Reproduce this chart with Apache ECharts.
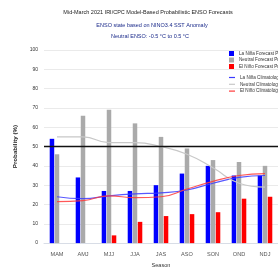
<!DOCTYPE html>
<html>
<head>
  <meta charset="utf-8" />
  <script src="https://cdn.jsdelivr.net/npm/echarts@6/dist/echarts.min.js"></script>
</head>
<body style="margin:0">
  <div id="main" style="width: 278px;height:273px;"></div>
  <script type="text/javascript">
    var seasons = ['MAM', 'AMJ', 'MJJ', 'JJA', 'JAS', 'ASO', 'SON', 'OND', 'NDJ']
    var laNina = [54, 34, 27, 27, 30, 36, 40, 35, 35]
    var neutral = [46, 66, 69, 62, 55, 49, 43, 42, 40]
    var elNino = [null, null, 4, 11, 14, 15, 16, 23, 24]
    var laNinaClim = [24, 23, 24.5, 25.5, 26, 27.5, 31, 34, 35]
    var neutralClim = [55, 55, 52, 52, 50, 46, 39, 31, 29]
    var elNinoClim = [21.5, 22, 24.5, 23.5, 24, 28, 32, 35, 36]
    var yTicks = [0, 10, 20, 30, 40, 50, 60, 70, 80, 90, 100]

    var myChart = echarts.init(document.getElementById('main'));
    var fam = 'Liberation Sans'

    var option = {
      animation: false,
      textStyle: { fontFamily: fam },
      graphic: [
        { type: 'text', x: 148, y: 9, style: { text: 'Mid-March 2021 IRI/CPC Model-Based Probabilistic ENSO Forecasts', fill: '#222', font: '5.5px ' + fam, textAlign: 'center' } },
        { type: 'text', x: 152, y: 22, style: { text: 'ENSO state based on NINO3.4 SST Anomaly', fill: '#1a2a8a', font: '5.5px ' + fam, textAlign: 'center' } },
        { type: 'text', x: 150, y: 33, style: { text: 'Neutral ENSO: -0.5 \u00b0C to 0.5 \u00b0C', fill: '#1a2a8a', font: '5.5px ' + fam, textAlign: 'center' } }
      ],
      legend: [
        {
          orient: 'vertical', left: 224, top: 46, itemWidth: 5, itemHeight: 5, itemGap: 1.5,
          icon: 'rect', textStyle: { fontSize: 4.6, color: '#333' },
          data: ['La Niña Forecast Probability', 'Neutral Forecast Probability', 'El Niño Forecast Probability']
        },
        {
          orient: 'vertical', left: 224, top: 70, itemWidth: 6, itemHeight: 1.2, itemGap: 1.8,
          icon: 'rect', textStyle: { fontSize: 4.6, color: '#333' },
          data: ['La Niña Climatology', 'Neutral Climatology', 'El Niño Climatology']
        }
      ],
      grid: { left: 44, top: 50, width: 238, height: 197 },
      xAxis: {
        type: 'category',
        data: seasons,
        name: 'Season', nameLocation: 'middle', nameGap: 18,
        nameTextStyle: { fontSize: 5.6, color: '#333' },
        axisTick: { show: false },
        axisLine: { lineStyle: { color: '#d8dde6' } },
        axisLabel: { fontSize: 5.6, color: '#555', margin: 8 }
      },
      yAxis: {
        type: 'value', min: 0, max: 100, interval: 10,
        name: 'Probability (%)', nameLocation: 'middle', nameGap: 23,
        nameTextStyle: { fontSize: 6.2, color: '#222', fontWeight: 'bold' },
        axisLabel: { fontSize: 5, color: '#333', margin: 6, formatter: function (v) { return yTicks.indexOf(v) >= 0 ? v : '' } },
        splitLine: { lineStyle: { color: '#eaeaea' } }
      },
      series: [
        {
          name: 'La Niña Forecast Probability', type: 'bar', data: laNina,
          barWidth: 4.5, barGap: '12%', itemStyle: { color: '#0000ff' },
          markLine: { silent: true, symbol: 'none', label: { show: false }, lineStyle: { color: '#111', type: 'solid', width: 1.3 }, data: [{ yAxis: 50 }] }
        },
        { name: 'Neutral Forecast Probability', type: 'bar', data: neutral, barWidth: 4.5, barGap: '12%', itemStyle: { color: '#aaaaaa' } },
        { name: 'El Niño Forecast Probability', type: 'bar', data: elNino, barWidth: 4.5, barGap: '12%', itemStyle: { color: '#ff0000' } },
        { name: 'La Niña Climatology', type: 'line', data: laNinaClim, smooth: true, symbol: 'none', lineStyle: { color: '#3b3bff', width: 1.2, opacity: 0.85 }, itemStyle: { color: '#3b3bff' } },
        { name: 'Neutral Climatology', type: 'line', data: neutralClim, smooth: true, symbol: 'none', lineStyle: { color: '#c8c8c8', width: 1.2 }, itemStyle: { color: '#c8c8c8' } },
        { name: 'El Niño Climatology', type: 'line', data: elNinoClim, smooth: true, symbol: 'none', lineStyle: { color: '#ff3b3b', width: 1.2, opacity: 0.85 }, itemStyle: { color: '#ff3b3b' } }
      ]
    };

    myChart.setOption(option);
  </script>
</body>
</html>
